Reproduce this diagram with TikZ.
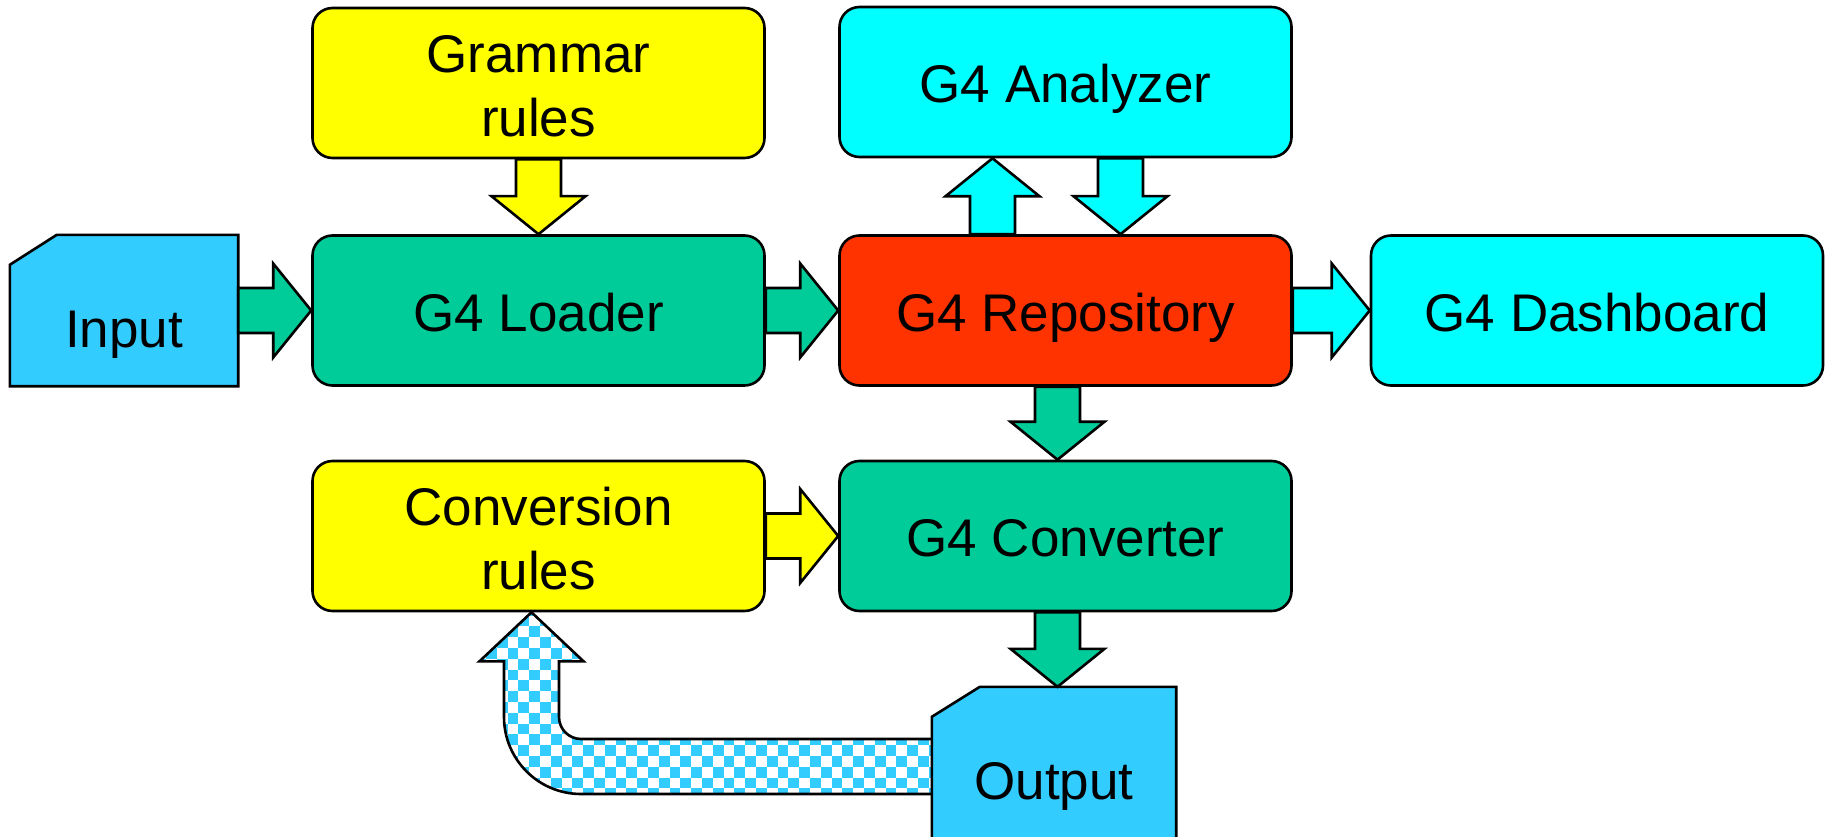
\documentclass[tikz,border=0pt]{standalone}
\usepackage{fontspec}
\setmainfont{Liberation Sans}
\usetikzlibrary{calc}

\definecolor{grn}{HTML}{00CC99}
\definecolor{rd}{HTML}{FF3300}
\definecolor{cyn}{HTML}{00FFFF}
\definecolor{ylw}{HTML}{FFFF00}
\definecolor{blu}{HTML}{33CCFF}

\tikzset{
  outline/.style={draw=black, line width=2.6pt, line join=miter},
  txt/.style={font=\fontsize{53}{64}\selectfont, align=center, inner sep=0pt},
  box/.style={outline, txt, rounded corners=20pt, minimum width=452pt, minimum height=150pt},
  oneline/.style={text height=41pt, text depth=0pt},
  cardframe/.style={minimum height=151pt, inner sep=0pt},
  card/.style={outline, fill=blu},
}
% strut that lowers a two-line label slightly
\newcommand\toplinestrut{\rule{0pt}{44pt}}

% block arrows between two points (start, tip)
\newcommand\blkright[3]{\draw[outline,fill=#1] let \p1=(#2), \p2=(#3) in
  (\x1,\y1+22.5pt) -- (\x2-38pt,\y1+22.5pt) -- (\x2-38pt,\y1+47pt) -- (\x2,\y1)
  -- (\x2-38pt,\y1-47pt) -- (\x2-38pt,\y1-22.5pt) -- (\x1,\y1-22.5pt) -- cycle;}
\newcommand\blkdown[3]{\draw[outline,fill=#1] let \p1=(#2), \p2=(#3) in
  (\x1-22.5pt,\y1) -- (\x1-22.5pt,\y2+38pt) -- (\x1-47pt,\y2+38pt) -- (\x1,\y2)
  -- (\x1+47pt,\y2+38pt) -- (\x1+22.5pt,\y2+38pt) -- (\x1+22.5pt,\y1) -- cycle;}
\newcommand\blkup[3]{\draw[outline,fill=#1] let \p1=(#2), \p2=(#3) in
  (\x1-22.5pt,\y1) -- (\x1-22.5pt,\y2-38pt) -- (\x1-47pt,\y2-38pt) -- (\x1,\y2)
  -- (\x1+47pt,\y2-38pt) -- (\x1+22.5pt,\y2-38pt) -- (\x1+22.5pt,\y1) -- cycle;}

\begin{document}
\begin{tikzpicture}[x=1pt, y=-1pt]
\useasboundingbox (0,0) rectangle (1827,837);

% rule boxes and processing stages
\node[box, fill=ylw] (gram) at (538.5,83)    {\toplinestrut Grammar\\rules};
\node[box, oneline, fill=cyn] (ana)  at (1065.5,82)   {G4 Analyzer};
\node[box, oneline, fill=grn] (load) at (538.5,310.5) {G4 Loader};
\node[box, oneline, fill=rd]  (repo) at (1065.5,310.5){G4 Repository};
\node[box, oneline, fill=cyn] (dash) at (1597,310.5)  {G4 Dashboard};
\node[box, fill=ylw] (conv) at (538.5,536)   {\toplinestrut Conversion\\rules};
\node[box, oneline, fill=grn] (cvt)  at (1065.5,536)  {G4 Converter};

% feedback arrow from the output back to the conversion rules
\path[path picture={
    \fill[white] (path picture bounding box.south west) rectangle (path picture bounding box.north east);
    \foreach \i in {44,...,87}{\foreach \j in {56,...,74}{%
      \pgfmathtruncatemacro\k{\i+\j}%
      \ifodd\k\relax\fill[blu] (\i*10.8,\j*10.8) rectangle ++(10.8,10.8);\fi}}},
  postaction={draw=black, line width=2.6pt, line join=miter}]
  let \p1=([xshift=-7pt]conv.south), \p2=([yshift=-4pt,xshift=1pt]1054,762.5) in
  (\x2,\y2+27.5pt) -- (\x1+49.5pt,\y2+27.5pt)
  arc[start angle=-90, end angle=-180, radius=22pt]
  -- (\x1+27.5pt,\y1-49pt) -- (\x1+52pt,\y1-49pt) -- (\x1,\y1)
  -- (\x1-52pt,\y1-49pt) -- (\x1-27.5pt,\y1-49pt) -- (\x1-27.5pt,\y2+49.5pt)
  arc[start angle=180, end angle=270, radius=77pt]
  -- (\x2,\y2-27.5pt) -- cycle;

% input and output cards
\node[cardframe, minimum width=228pt] (inp) at (124,310.5) {};
\draw[card] ([yshift=-30pt]inp.north west) -- ([xshift=47pt]inp.north west)
  -- (inp.north east) -- (inp.south east) -- (inp.south west) -- cycle;
\node[txt, anchor=base] (inptxt) at ([yshift=-36.5pt]inp.center) {Input};

\node[cardframe, minimum width=244pt] (outp) at (1054,762.5) {};
\draw[card] ([yshift=-30pt]outp.north west) -- ([xshift=48pt]outp.north west)
  -- (outp.north east) -- ([yshift=-4pt]outp.south east) -- ([yshift=-4pt]outp.south west) -- cycle;
\node[txt, anchor=base] (outtxt) at ([yshift=-36.5pt]outp.center) {Output};

% connectors
\blkright{grn}{inp.east}{load.west}
\blkright{grn}{load.east}{repo.west}
\blkright{cyn}{repo.east}{dash.west}
\blkright{ylw}{conv.east}{cvt.west}
\blkdown{ylw}{gram.south}{load.north}
\blkup{cyn}{[xshift=-73pt]repo.north}{[xshift=-73pt]ana.south}
\blkdown{cyn}{[xshift=55pt]ana.south}{[xshift=55pt]repo.north}
\blkdown{grn}{[xshift=-8pt]repo.south}{[xshift=-8pt]cvt.north}
\blkdown{grn}{[xshift=-8pt]cvt.south}{[xshift=-5pt]outp.north}
\end{tikzpicture}
\end{document}
